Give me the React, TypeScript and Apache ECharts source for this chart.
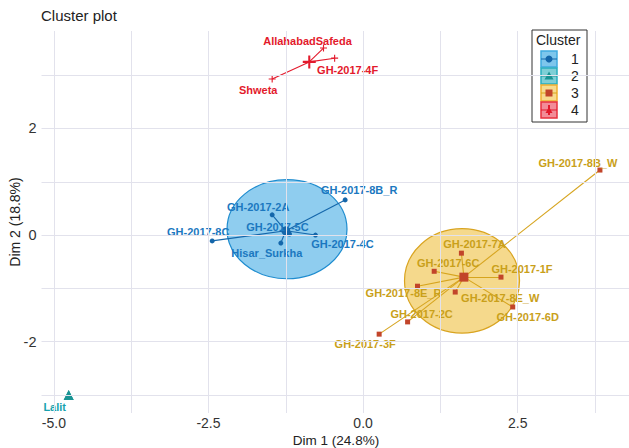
import React, { useEffect, useRef } from "react";
import * as echarts from "echarts";

// ---- data (PCA coordinates) ----
const c1Names = ["GH-2017-8B_R", "GH-2017-2A", "GH-2017-5C", "GH-2017-4C", "GH-2017-8C", "Hisar_Surkha"];
const c1X = [-0.29, -1.47, -1.19, -0.77, -2.44, -1.33];
const c1Y = [0.66, 0.38, 0.02, 0.0, -0.11, -0.15];
const c1Center = [-1.25, 0.08];

const c2Names = ["Lalit"];
const c2X = [-4.76];
const c2Y = [-3.0];
const c2Center = [-4.76, -3.0];

const c3Names = ["GH-2017-7A", "GH-2017-6C", "GH-2017-1F", "GH-2017-8E_R", "GH-2017-8E_W", "GH-2017-6D", "GH-2017-2C", "GH-2017-3F", "GH-2017-8B_W"];
const c3X = [1.59, 1.15, 2.23, 0.88, 1.49, 2.42, 0.72, 0.26, 3.83];
const c3Y = [-0.34, -0.68, -0.79, -0.96, -1.07, -1.35, -1.63, -1.86, 1.22];
const c3Center = [1.63, -0.79];

const c4Names = ["AllahabadSafeda", "GH-2017-4F", "Shweta"];
const c4X = [-0.64, -0.46, -1.47];
const c4Y = [3.51, 3.32, 2.93];
const c4Center = [-0.87, 3.25];

// ellipses: [cx, cy, rx, ry]
const ellipse1 = [-1.23, 0.11, 0.97, 0.93];
const ellipse3 = [1.6, -0.86, 0.93, 0.98];

const legendLabels = ["1", "2", "3", "4"];
const xTicks = [-5, -2.5, 0, 2.5];
const yTicks = [-2, 0, 2];
const xGrid = [-5, -3.75, -2.5, -1.25, 0, 1.25, 2.5, 3.75];
const yGrid = [-3, -2, -1, 0, 1, 2, 3];

// ---- styles ----
const FONT = "'Liberation Sans', Arial, sans-serif";
const labelOffsets: Record<string, [number, number]> = {
  "GH-2017-8B_R": [14, -10],
  "GH-2017-2A": [-14, -8],
  "GH-2017-5C": [-12, -7],
  "GH-2017-4C": [27, 9],
  "GH-2017-8C": [-14, -9],
  "Hisar_Surkha": [-14, 10],
  "Lalit": [-14, 12],
  "GH-2017-7A": [13, -9],
  "GH-2017-6C": [14, -8],
  "GH-2017-1F": [21, -8],
  "GH-2017-8E_R": [-14, 7],
  "GH-2017-8E_W": [45, 6],
  "GH-2017-6D": [15, 10],
  "GH-2017-2C": [14, -8],
  "GH-2017-3F": [-14, 10],
  "GH-2017-8B_W": [-22, -7],
  "AllahabadSafeda": [-16, -7],
  "GH-2017-4F": [13, 12],
  "Shweta": [-14, 11],
};

const CROSS = "path://M0,4.2H10V5.8H0Z M4.2,0H5.8V10H4.2Z";
const TRI = "triangle";

const clusters = [
  { names: c1Names, xs: c1X, ys: c1Y, center: c1Center, point: "#1466AA", line: "#1466AA", label: "#1B78C0", symbol: "circle", size: 5, csize: 9 },
  { names: c2Names, xs: c2X, ys: c2Y, center: c2Center, point: "#1A9494", line: "#1A9494", label: "#19A2AE", symbol: TRI, size: 10, csize: 10 },
  { names: c3Names, xs: c3X, ys: c3Y, center: c3Center, point: "#C2452A", line: "#D6A41E", label: "#C9A01A", symbol: "rect", size: 5, csize: 9 },
  { names: c4Names, xs: c4X, ys: c4Y, center: c4Center, point: "#E31A2C", line: "#E31A2C", label: "#E31A2C", symbol: CROSS, size: 7, csize: 13 },
];

function ellipseSeries(e: number[], fill: string, stroke: string) {
  return {
    type: "custom",
    silent: true,
    z: 1,
    data: [e],
    renderItem: (_p: any, api: any) => {
      const c = api.coord([api.value(0), api.value(1)]);
      const s = api.size([api.value(2), api.value(3)]);
      return {
        type: "ellipse",
        shape: { cx: c[0], cy: c[1], rx: s[0], ry: s[1] },
        style: { fill, stroke, lineWidth: 1.2 },
      };
    },
  };
}

export default function App() {
  const ref = useRef<HTMLDivElement>(null);
  useEffect(() => {
    if (!ref.current) return;
    const chart = echarts.init(ref.current, null, { renderer: "svg" });
    const series: any[] = [];
    series.push({
      type: "scatter",
      data: [],
      silent: true,
      z: 0,
      markLine: {
        silent: true,
        symbol: ["none", "none"],
        label: { show: false },
        lineStyle: { color: "#E2E2EC", width: 1, type: "solid" },
        data: [...xGrid.map((v) => ({ xAxis: v })), ...yGrid.map((v) => ({ yAxis: v }))],
      },
    });
    series.push(ellipseSeries(ellipse1, "#8FCDEF", "#1E8CCF"));
    series.push(ellipseSeries(ellipse3, "#F5D98C", "#D9A420"));
    clusters.forEach((cl) => {
      series.push({
        type: "lines",
        coordinateSystem: "cartesian2d",
        silent: true,
        z: 2,
        lineStyle: { color: cl.line, width: 1.1, opacity: 1 },
        data: cl.names.map((_n, i) => ({ coords: [cl.center, [cl.xs[i], cl.ys[i]]] })),
      });
    });
    clusters.forEach((cl) => {
      series.push({
        type: "scatter",
        silent: true,
        z: 3,
        symbol: cl.symbol,
        symbolSize: cl.size,
        itemStyle: { color: cl.point, opacity: 1 },
        label: {
          show: true,
          position: "inside",
          formatter: "{b}",
          color: cl.label,
          fontSize: 11,
          fontWeight: "bold",
          fontFamily: FONT,
        },
        data: cl.names.map((n, i) => ({
          name: n,
          value: [cl.xs[i], cl.ys[i]],
          label: { offset: labelOffsets[n] },
        })),
      });
      series.push({
        type: "scatter",
        silent: true,
        z: 3,
        symbol: cl.symbol,
        symbolSize: cl.csize,
        itemStyle: { color: cl.point, opacity: 1 },
        data: [cl.center],
      });
    });

    // legend drawn as graphic
    const keyFill = ["#7EC6EC", "#7ECFD6", "#F7DB8E", "#F28C98"];
    const keyStroke = ["#3FAAE0", "#2AAFBE", "#EFB030", "#E8303E"];
    const legendChildren: any[] = [
      { type: "rect", shape: { x: 532, y: 30, width: 55, height: 92 }, style: { fill: "#fff", stroke: "#333", lineWidth: 1 } },
      { type: "text", x: 536, y: 40, style: { text: "Cluster", font: `14px ${FONT}`, fill: "#222", verticalAlign: "middle" } },
    ];
    legendLabels.forEach((lab, i) => {
      const cy = 59 + i * 17;
      const cx = 549;
      const cl = clusters[i];
      legendChildren.push({ type: "rect", shape: { x: cx - 8, y: cy - 8, width: 16, height: 16 }, style: { fill: keyFill[i], stroke: keyStroke[i], lineWidth: 1.5 } });
      legendChildren.push({ type: "line", shape: { x1: cx - 8, y1: cy, x2: cx + 8, y2: cy }, style: { stroke: cl.line, lineWidth: 1 } });
      if (i === 0) legendChildren.push({ type: "circle", shape: { cx, cy, r: 3.5 }, style: { fill: cl.point } });
      if (i === 1) legendChildren.push({ type: "polygon", shape: { points: [[cx, cy - 4.5], [cx + 4.5, cy + 3.5], [cx - 4.5, cy + 3.5]] }, style: { fill: cl.point } });
      if (i === 2) legendChildren.push({ type: "rect", shape: { x: cx - 3.5, y: cy - 3.5, width: 7, height: 7 }, style: { fill: cl.point } });
      if (i === 3) {
        legendChildren.push({ type: "line", shape: { x1: cx, y1: cy - 5, x2: cx, y2: cy + 5 }, style: { stroke: cl.point, lineWidth: 2 } });
        legendChildren.push({ type: "polygon", shape: { points: [[cx, cy - 3], [cx + 3.5, cy + 3], [cx - 3.5, cy + 3]] }, style: { fill: cl.point } });
      }
      legendChildren.push({ type: "text", x: 571, y: cy, style: { text: lab, font: `14px ${FONT}`, fill: "#222", verticalAlign: "middle" } });
    });

    chart.setOption({
      animation: false,
      backgroundColor: "#fff",
      grid: { left: 41.5, top: 31, width: 592.8, height: 382, containLabel: false },
      xAxis: {
        type: "value",
        min: -5.2,
        max: 4.3,
        axisLine: { show: false },
        splitLine: { show: false },
        axisTick: { show: true, length: 3, lineStyle: { color: "#333" }, customValues: xTicks },
        axisLabel: {
          customValues: xTicks,
          margin: 3,
          color: "#333",
          fontSize: 14,
          fontFamily: FONT,
          formatter: (v: number) => v.toFixed(1),
        },
      },
      yAxis: {
        type: "value",
        min: -3.34,
        max: 3.83,
        axisLine: { show: false },
        splitLine: { show: false },
        axisTick: { show: true, length: 3, lineStyle: { color: "#333" }, customValues: yTicks },
        axisLabel: {
          customValues: yTicks,
          margin: 5,
          color: "#333",
          fontSize: 14.5,
          fontFamily: FONT,
          formatter: (v: number) => String(v),
        },
      },
      graphic: [
        { type: "text", x: 41, y: 15, style: { text: "Cluster plot", font: `15px ${FONT}`, fill: "#222", verticalAlign: "middle" } },
        { type: "text", x: 336, y: 440, style: { text: "Dim 1 (24.8%)", font: `13.5px ${FONT}`, fill: "#222", align: "center", verticalAlign: "middle" } },
        { type: "text", x: 15, y: 222, rotation: Math.PI / 2, style: { text: "Dim 2 (18.8%)", font: `14px ${FONT}`, fill: "#222", align: "center", verticalAlign: "middle" } },
        { type: "group", children: legendChildren },
      ],
      series,
    });
    return () => chart.dispose();
  }, []);
  return <div ref={ref} style={{ position: "fixed", left: 0, top: 0, width: 629, height: 448 }} />;
}
